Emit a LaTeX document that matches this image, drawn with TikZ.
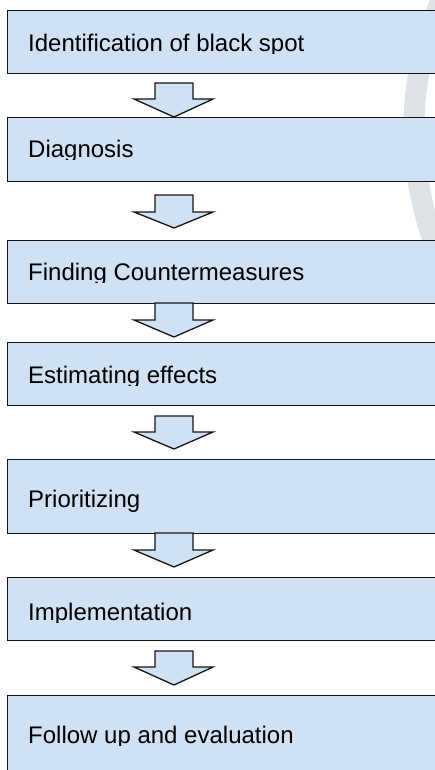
\documentclass[tikz,border=0pt]{standalone}
\usepackage{fontspec}
\setmainfont{Liberation Sans}
\definecolor{boxfill}{HTML}{CFE1F3}
\definecolor{wmark}{HTML}{DDE3E6}
\definecolor{edge}{HTML}{151515}
\newcommand\stepline[4]{% name, baseline y, cut y, text
  \begin{scope}
    \clip (0,#2-40) rectangle (435,#3);
    \node[txt] (#1) at (28,#2) {#4};
  \end{scope}}
\newcommand\blockarrow[4]{% name, top y, wing y, tip y
  \coordinate (#1) at (174,#4);
  \draw[barrow] (155,#2) -- (193,#2) -- (193,#3) -- (213,#3) -- (#1) -- (134,#3) -- (155,#3) -- cycle;}
\begin{document}
\begin{tikzpicture}[x=1pt,y=-1pt,
  stepbox/.style={draw=edge, fill=boxfill, line width=1.4pt, anchor=north west, inner sep=0pt, minimum width=450pt},
  txt/.style={anchor=base west, inner sep=0pt, font=\fontsize{24}{28}\selectfont},
  barrow/.style={draw=edge, fill=boxfill, line width=1.3pt, line join=miter}]
\useasboundingbox (0,0) rectangle (435,770);
\clip (0,0) rectangle (435,770);
% watermark arc
\draw[wmark, line width=21pt] (446,-10) .. controls (408,70) and (400,160) .. (442,265);
% boxes
\node[stepbox, minimum height=63pt] (b1) at (7,10) {};
\node[stepbox, minimum height=64pt] (b2) at (7,117) {};
\node[stepbox, minimum height=63pt] (b3) at (7,240) {};
\node[stepbox, minimum height=63pt] (b4) at (7,342) {};
\node[stepbox, minimum height=74pt] (b5) at (7,459) {};
\node[stepbox, minimum height=63pt] (b6) at (7,577) {};
\node[stepbox, minimum height=90pt] (b7) at (7,695) {};
% texts
\stepline{t1}{52}{54}{Identification of black spot}
\stepline{t2}{158}{160}{Diagnosis}
\stepline{t3}{280}{282}{Finding Countermeasures}
\stepline{t4}{383}{385}{Estimating effects}
\stepline{t5}{507}{520}{Prioritizing}
\stepline{t6}{620}{622}{Implementation}
\stepline{t7}{743}{745}{Follow up and evaluation}
% block arrows
\blockarrow{a1}{83}{99}{117}
\blockarrow{a2}{195}{212}{228}
\blockarrow{a3}{303}{320}{337}
\blockarrow{a4}{416}{432}{449}
\blockarrow{a5}{533}{550}{567}
\blockarrow{a6}{651}{667}{685}
\end{tikzpicture}
\end{document}
